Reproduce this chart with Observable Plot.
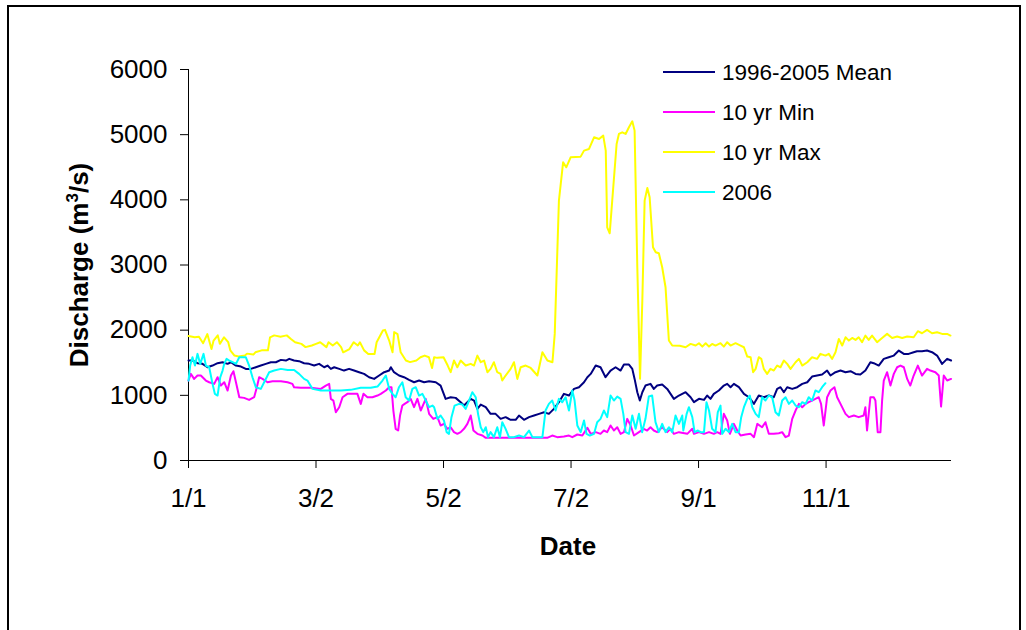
<!DOCTYPE html>
<html><head><meta charset="utf-8">
<script src="https://cdn.jsdelivr.net/npm/d3@7"></script>
<script src="https://cdn.jsdelivr.net/npm/@observablehq/plot@0.6"></script>
<style>
html,body{margin:0;padding:0;overflow:hidden;width:1026px;height:630px;background:#fff;}
#frame{position:absolute;left:7px;top:5px;width:1014px;height:700px;border:2px solid #000;box-sizing:border-box;pointer-events:none;}
#chart{position:absolute;left:0;top:0;}
</style></head><body>
<div id="chart"></div><div id="frame"></div>
<script>
const seriesNames = ["1996-2005 Mean", "10 yr Min", "10 yr Max", "2006"];
const seriesColors = ["#000080", "#FF00FF", "#FFFF00", "#00FFFF"];
const xTickValues = [0, 61, 122, 183, 244, 305];
const xTickLabels = ["1/1", "3/2", "5/2", "7/2", "9/1", "11/1"];
const yTickValues = [0, 1000, 2000, 3000, 4000, 5000, 6000];

// [day offset from 1/1, discharge m3/s]
const meanData = [[0,1534],[2,1534],[4.3,1493],[6.7,1483],[9.1,1431],[11.5,1457],[13.9,1493],[16.3,1508],[18.7,1483],[20.3,1508],[22.7,1457],[25.1,1442],[27.4,1406],[29.8,1406],[32.2,1431],[34.6,1457],[37,1483],[39.4,1508],[41.8,1508],[44.2,1544],[46.6,1534],[48.2,1560],[50.5,1534],[52.9,1524],[55.3,1493],[57.7,1483],[60.1,1457],[62.5,1483],[64.9,1431],[66.5,1457],[68.1,1406],[69.7,1431],[72.1,1406],[74.4,1380],[76.8,1406],[79.2,1380],[81.6,1355],[84,1329],[86.4,1278],[88.8,1252],[91.2,1304],[93.6,1355],[96,1380],[96.8,1431],[98.3,1355],[100.7,1304],[103.1,1278],[105.5,1237],[107.9,1201],[110.3,1227],[112.7,1201],[115.1,1217],[118.3,1201],[120.6,1150],[123,946],[125.4,971],[127.8,961],[130.2,895],[131.8,844],[133.4,895],[135,946],[136.6,920],[138.2,792],[139.8,859],[142.2,818],[144.5,716],[146.9,716],[149.3,639],[151.7,665],[154.1,624],[156.5,624],[158.1,690],[160.5,624],[162.9,665],[165.3,690],[167.7,716],[170.1,741],[172.4,716],[174.8,792],[177.2,895],[179.6,1023],[182,997],[184.4,1099],[186.8,1125],[189.2,1201],[190.8,1278],[192.4,1329],[194.8,1457],[197.1,1431],[199.5,1278],[201.9,1380],[204.3,1431],[206.7,1380],[208.3,1472],[210.7,1472],[212.3,1406],[213.4,1252],[214.7,1048],[215.9,920],[217.1,1048],[218.6,1150],[221,1176],[222.6,1099],[224.2,1150],[226.6,1166],[229,1099],[230.6,1023],[232.2,946],[234.6,997],[237.8,1048],[240.2,971],[241.8,895],[244.2,946],[246.6,930],[248.1,997],[249.7,946],[251.3,1023],[253.7,1074],[256.1,1150],[257.7,1176],[259.3,1125],[260.9,1176],[263.3,1125],[265.7,1023],[268.1,971],[270.5,869],[272.8,997],[275.2,971],[277.6,997],[280,971],[281.6,1099],[283.2,1125],[284.8,1048],[286.4,1125],[288.8,1099],[291.2,1125],[293.6,1176],[296,1201],[298.3,1288],[300.7,1304],[303.1,1319],[305.5,1380],[307.1,1304],[309.5,1355],[311.9,1380],[314.3,1355],[316.7,1370],[319.1,1329],[321.4,1319],[323.8,1380],[326.2,1508],[327.8,1493],[330.2,1457],[332.6,1560],[335,1585],[337.4,1610],[339.8,1687],[342.2,1636],[344.5,1636],[346.9,1662],[348.5,1677],[350.9,1677],[353.3,1687],[355.7,1662],[358.1,1610],[360.5,1483],[362.9,1560],[364.8,1534]];

const minData = [[0,1227],[1.1,1329],[2.7,1252],[4.3,1304],[5.9,1304],[8.3,1227],[9.9,1201],[12.3,1176],[13.9,1278],[15.5,1150],[17.1,1201],[18.7,1074],[20.3,1304],[21.5,1370],[22.7,1201],[24.3,971],[26.6,961],[29,930],[31.4,971],[32.7,1125],[33.8,1278],[35.4,1252],[37.8,1201],[40.2,1217],[44.2,1217],[47.4,1201],[49.7,1176],[50.5,1125],[53.7,1115],[58.5,1115],[63.3,1099],[65.7,1150],[67.3,1176],[68.1,946],[69.3,920],[70.5,741],[72.1,818],[73.7,971],[76,1023],[79.2,1023],[80.8,1023],[82.4,869],[83.7,1023],[85.6,971],[88,971],[90.4,997],[92,1023],[94.4,1074],[96,1125],[97.1,1125],[98,767],[99.1,486],[100.3,460],[101.2,690],[102.3,843],[103.4,869],[104.7,895],[106.3,946],[107.9,818],[109.5,946],[111.1,767],[113.5,946],[115.1,716],[117.1,639],[119.1,665],[120.6,537],[122.2,562],[123.8,486],[125.4,511],[127,435],[128.6,409],[130.2,435],[131.8,486],[133.4,562],[135,690],[136.3,460],[138.2,409],[140.6,383],[142.2,348],[147.7,348],[155.7,348],[163.7,348],[171.6,348],[174,383],[176.4,358],[179.6,368],[182,383],[183.6,358],[186,399],[188.4,383],[190.8,501],[192.4,409],[194.8,435],[197.1,409],[198.7,460],[200.3,435],[201.9,537],[203.5,460],[205.1,511],[206.7,409],[208.3,435],[209.9,639],[211.5,537],[213.1,383],[215.5,435],[217.8,486],[219.4,460],[221,511],[222.6,460],[224.2,435],[226.6,511],[229,435],[230.6,486],[232.2,409],[234.6,435],[238.6,409],[241,486],[241.8,409],[244.2,435],[246.6,409],[249,435],[251.3,409],[252.9,435],[254.5,409],[256.1,716],[257.7,613],[259,409],[260.9,562],[262.5,460],[264.1,383],[266.5,399],[268.9,409],[270.5,358],[272.1,562],[274.4,511],[276,588],[277.6,409],[280,409],[282.4,419],[284,435],[285.6,358],[287.2,383],[288.8,639],[290.4,767],[292,869],[293.6,818],[295.2,869],[296.7,895],[298.3,920],[299.9,946],[301.5,971],[302.6,869],[303.9,537],[305.5,971],[307.1,1074],[309,1125],[310.3,971],[311.9,869],[314.3,716],[315.9,665],[318.3,690],[320.6,665],[323,690],[323.8,818],[324.6,460],[326.2,971],[327.8,971],[328.6,920],[329.7,435],[331,435],[331.8,920],[332.6,1227],[334.2,1355],[335.8,1150],[337.4,1329],[339,1431],[340.6,1457],[342.2,1431],[343.8,1252],[345.3,1150],[346.9,1304],[348.9,1457],[350.9,1304],[353.3,1406],[354.9,1380],[357.3,1355],[358.9,1304],[360,828],[361.3,1304],[362.9,1227],[364.8,1252]];

const maxData = [[0,1910],[3,1890],[5,1900],[7,1800],[9,1940],[11,1710],[12,1840],[14,1920],[15,1790],[17,1890],[19,1815],[20,1690],[22,1610],[24,1595],[27,1610],[28,1640],[31,1625],[32,1660],[35,1690],[38,1690],[39,1890],[41,1920],[44,1900],[47,1920],[49,1865],[51,1815],[54,1790],[56,1740],[59,1765],[61,1790],[63,1815],[66,1740],[67,1815],[69,1765],[71,1815],[73,1740],[74,1660],[77,1710],[79,1815],[81,1765],[82,1815],[84,1690],[86,1635],[89,1635],[90,1815],[93,1995],[94,2005],[96,1840],[97.6,1660],[98.4,1970],[100,1940],[101.5,1660],[104,1535],[106,1510],[109,1535],[111,1585],[113,1610],[115,1585],[116.5,1420],[117.5,1585],[119,1575],[122,1585],[124,1457],[125.4,1355],[127,1534],[128.6,1431],[130.2,1534],[132.6,1457],[135,1483],[136.6,1457],[138.2,1610],[139.8,1508],[141.4,1534],[143,1355],[144.5,1406],[146.1,1508],[147.7,1355],[149.3,1329],[150.1,1227],[151.7,1304],[154.1,1406],[155.7,1508],[157.3,1252],[158.9,1431],[161.3,1457],[163.7,1420],[166.9,1304],[169.3,1662],[171.7,1534],[174.1,1508],[175.2,1943],[177.2,3988],[179.2,4576],[180.7,4499],[182.8,4653],[187.6,4663],[189.2,4755],[191.6,4781],[194,4960],[196.4,4934],[198.4,4985],[199.6,4755],[200.3,3579],[201.5,3487],[202.7,3988],[204.8,4857],[205.9,5011],[207.5,5036],[209.1,5011],[210.7,5113],[212.3,5205],[213.4,5062],[214.7,2966],[216,1253],[217.1,2454],[218.2,3988],[219.5,4182],[220.6,4039],[222.2,3272],[223.5,3196],[225,3180],[226.6,2966],[228.2,2659],[229.8,1841],[231.4,1764],[235,1760],[237.8,1738],[240.2,1789],[242.6,1764],[244.2,1800],[245.8,1748],[247.4,1800],[249,1748],[250.5,1789],[252.1,1764],[254.5,1800],[256.1,1748],[257.7,1815],[259.3,1764],[261.7,1800],[264.1,1764],[265.7,1738],[267.3,1595],[268.9,1585],[270.1,1355],[271.3,1406],[272.8,1585],[274,1560],[275.2,1406],[276.8,1329],[278.4,1406],[280,1380],[281.6,1457],[283.2,1431],[284.8,1534],[286.4,1483],[288,1406],[290.4,1508],[292,1560],[293.6,1457],[296,1508],[298.3,1585],[300.7,1560],[302.3,1636],[304.7,1610],[306.3,1636],[307.9,1560],[309.5,1662],[311.1,1866],[312.7,1764],[314.3,1891],[315.9,1840],[317.5,1881],[319.1,1851],[320.6,1891],[322.2,1815],[323.8,1917],[325.4,1851],[327,1917],[329.4,1815],[331.8,1881],[334.2,1943],[336.6,1881],[339,1902],[341.4,1881],[343.8,1902],[346.9,1891],[348.9,1984],[350.9,1953],[353.3,2004],[355.7,1953],[358.1,1968],[360.5,1943],[362.9,1943],[364.5,1917]];

const data2006 = [[0,1227],[0.8,1457],[1.9,1585],[3.1,1457],[4.3,1636],[5.6,1483],[7.2,1636],[8.3,1457],[9.9,1431],[11.5,1176],[12.6,1023],[13.9,997],[15.2,1278],[16.3,1380],[17.1,1483],[18.2,1560],[19.5,1534],[21.1,1508],[22.7,1483],[24.3,1585],[25.8,1585],[27.4,1585],[29,1457],[30.6,1278],[32.2,1125],[34.6,1099],[36.2,1201],[38.6,1355],[41,1380],[44.2,1406],[47.4,1390],[50.5,1390],[52.9,1329],[55.3,1252],[56.9,1227],[59.3,1099],[63.3,1074],[68.1,1074],[72.9,1074],[77.6,1084],[82.4,1115],[87.2,1115],[90.4,1135],[92.8,1227],[94.4,1304],[96,1099],[97.6,1023],[99.1,971],[100.7,1125],[102.3,1201],[103.9,971],[105.5,920],[107.1,1099],[108.7,1125],[110.3,997],[111.9,1023],[113.5,920],[115.1,818],[116.7,843],[117.5,818],[119.1,639],[120.6,690],[122.2,613],[123.5,435],[124.6,409],[125.8,665],[127.3,843],[129.4,869],[131,859],[132.6,792],[134.2,920],[135.8,1048],[137.4,971],[138.5,716],[139.8,511],[141,435],[142.2,511],[143.3,358],[144.5,435],[146.1,358],[147.7,511],[149,358],[150.1,588],[151.7,486],[153.3,358],[155.7,358],[158.1,383],[160.5,358],[162.9,460],[164.5,358],[166.9,358],[169.3,358],[170.8,767],[172.4,869],[174,920],[175.6,767],[177.2,946],[178.8,895],[180.4,971],[182,767],[183.6,1074],[184.7,920],[186,537],[187.6,435],[189.2,613],[190.4,409],[192,383],[194,409],[195.5,588],[197.1,639],[198.7,767],[200.3,665],[201.9,997],[203.5,920],[205.1,981],[206.7,946],[208,716],[209.1,435],[210.7,409],[212.3,690],[213.9,486],[215.5,716],[217,435],[218.6,639],[220.2,981],[221.8,997],[223.4,588],[225,435],[226.6,562],[228.2,435],[229.8,511],[231.4,435],[233,690],[234.6,562],[236.2,690],[236.7,460],[238.3,716],[239.4,818],[241,665],[242.1,435],[243.7,460],[245,435],[246.6,435],[247.8,895],[249,767],[250.5,486],[252.1,435],[253.2,741],[254.5,843],[255.3,409],[256.9,486],[258.5,435],[260.1,562],[261.7,435],[263.3,435],[264.4,665],[265.7,818],[267.3,946],[268.5,997],[269.7,818],[271.3,716],[272.8,665],[274.4,971],[276,920],[277.6,997],[279.2,971],[280.8,741],[282.4,690],[284,920],[285.6,971],[287.2,869],[288.8,920],[290.4,843],[292,818],[293.6,895],[295.2,869],[296.7,971],[298.3,920],[299.9,1074],[301.5,1048],[303.1,1125],[304.7,1186]];

const seriesData = [meanData, minData, maxData, data2006];
const rows = seriesData.flatMap((s, i) => s.map(([d, v]) => ({day: d, value: v, name: seriesNames[i]})));

const FONT = "'Liberation Sans', Arial, Helvetica, sans-serif";

const plot = Plot.plot({
  width: 1026, height: 630,
  marginLeft: 188, marginRight: 75, marginTop: 69, marginBottom: 170,
  style: {fontFamily: FONT, fontSize: "26px", color: "#000", background: "transparent", overflow: "visible"},
  x: {domain: [0, 365]},
  y: {domain: [0, 6000]},
  color: {domain: seriesNames, range: seriesColors},
  marks: [
    Plot.axisX({ticks: xTickValues, tickFormat: d => xTickLabels[xTickValues.indexOf(d)], tickSize: 8, tickPadding: 20, label: null}),
    Plot.axisY({ticks: yTickValues, tickFormat: d => String(d), tickSize: 8, tickPadding: 13, label: null}),
    Plot.ruleX([0], {y1: 0, y2: 6000, stroke: "#000"}),
    Plot.ruleY([0], {x1: 0, x2: 365, stroke: "#000"}),
    Plot.line(rows, {x: "day", y: "value", z: "name", stroke: "name", strokeWidth: 2})
  ]
});
document.getElementById("chart").appendChild(plot);

const svg = d3.select(plot);
const yt = svg.append("text")
  .attr("transform", "translate(88,265) rotate(-90)")
  .attr("text-anchor", "middle")
  .attr("fill", "#000")
  .style("font-family", FONT).style("font-weight", "bold").style("font-size", "26px");
yt.append("tspan").text("Discharge (m");
yt.append("tspan").attr("dy", -10).style("font-size", "17px").text("3");
yt.append("tspan").attr("dy", 10).text("/s)");

svg.append("text").attr("x", 568).attr("y", 555).attr("text-anchor", "middle").attr("fill", "#000")
  .style("font-family", FONT).style("font-weight", "bold").style("font-size", "26px").text("Date");

const lg = svg.append("g").attr("text-anchor", "start");
seriesNames.forEach((n, i) => {
  const y = 72 + 40 * i;
  lg.append("line").attr("x1", 663).attr("x2", 715).attr("y1", y).attr("y2", y)
    .attr("stroke", seriesColors[i]).attr("stroke-width", 2);
  lg.append("text").attr("x", 722).attr("y", y + 8).attr("fill", "#000").attr("text-anchor", "start")
    .style("font-family", FONT).style("font-size", "22.5px").text(n);
});
</script>
</body></html>
